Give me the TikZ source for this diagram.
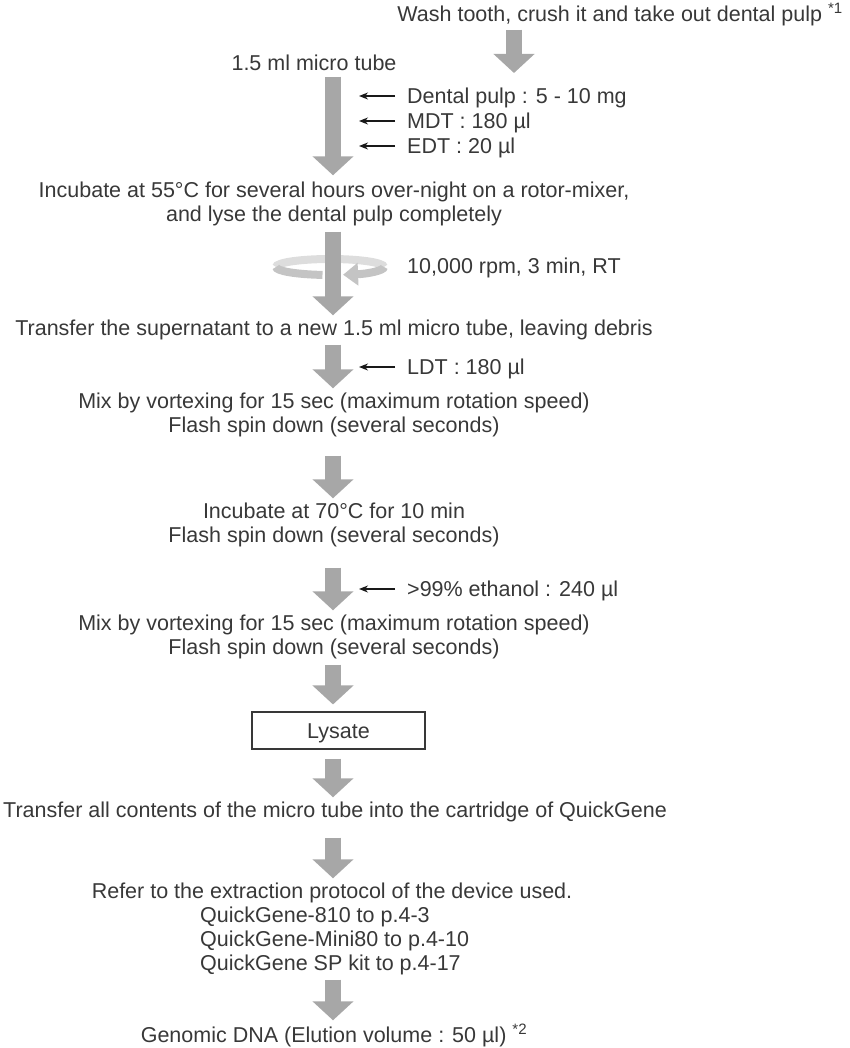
\documentclass[tikz,border=0pt]{standalone}
\usepackage{fontspec}
\setmainfont{Liberation Sans}
\usetikzlibrary{arrows.meta,calc}
\definecolor{txtgray}{HTML}{383838}
\definecolor{flowgray}{HTML}{A7A7A7}
\definecolor{ringfront}{HTML}{C4C4C4}
\definecolor{ringback}{HTML}{DDDDDD}

\begin{document}
\begin{tikzpicture}[x=1pt,y=1pt,
  txt/.style={inner sep=0pt, text height=20pt, text depth=5pt,
    font=\fontsize{21.5}{24}\selectfont, text=txtgray},
  flow/.style={draw=flowgray, line width=16pt, -{Triangle[width=40pt,length=19pt]}},
  add/.style={draw=black!90, line width=1.4pt, -{Stealth[length=9pt,width=7pt]}},
  ring/.style={line width=8pt},
  box/.style={draw=txtgray, line width=1.1pt, minimum width=173pt, minimum height=37pt}
]
\useasboundingbox (0,0) rectangle (850,-1048);

% column positions for the flow arrows and the tips of the small arrows
\coordinate (col) at (333,0);
\coordinate (colW) at (514,0);
\coordinate (pulpIn) at (514,-73);
\coordinate (addTip) at (359,0);
\coordinate (rc) at (330,-267);

% steps
\node[txt, anchor=east] (wash) at (843,-14) {Wash tooth, crush it and take out dental pulp \textsuperscript{*1}};
\node[txt] (tube) at (314,-63) {1.5 ml micro tube};
\node[txt, anchor=west] (dp) at (407,-96) {Dental pulp : 5 - 10 mg};
\node[txt, anchor=west] (mdt) at (407,-121) {MDT : 180 µl};
\node[txt, anchor=west] (edt) at (407,-146) {EDT : 20 µl};
\node[txt] (inc1a) at (334,-190) {Incubate at 55°C for several hours over-night on a rotor-mixer,};
\node[txt] (inc1b) at (334,-214) {and lyse the dental pulp completely};
\node[txt, anchor=west] (rpm) at (407,-266) {10,000 rpm, 3 min, RT};
\node[txt] (trans) at (334,-328) {Transfer the supernatant to a new 1.5 ml micro tube, leaving debris};
\node[txt, anchor=west] (ldt) at (407,-367) {LDT : 180 µl};
\node[txt] (mix1a) at (334,-401) {Mix by vortexing for 15 sec (maximum rotation speed)};
\node[txt] (mix1b) at (334,-425) {Flash spin down (several seconds)};
\node[txt] (inc2a) at (334,-511) {Incubate at 70°C for 10 min};
\node[txt] (inc2b) at (334,-535) {Flash spin down (several seconds)};
\node[txt, anchor=west] (eth) at (407,-589) {>99\% ethanol : 240 µl};
\node[txt] (mix2a) at (334,-623) {Mix by vortexing for 15 sec (maximum rotation speed)};
\node[txt] (mix2b) at (334,-647) {Flash spin down (several seconds)};
\node[txt, box] (lys) at (338.5,-730.5) {Lysate};
\node[txt] (tall) at (335,-810) {Transfer all contents of the micro tube into the cartridge of QuickGene};
\node[txt] (ref) at (332,-891) {Refer to the extraction protocol of the device used.};
\node[txt, anchor=west] (q1) at (200,-915) {QuickGene-810 to p.4-3};
\node[txt, anchor=west] (q2) at (200,-939) {QuickGene-Mini80 to p.4-10};
\node[txt, anchor=west] (q3) at (200,-963) {QuickGene SP kit to p.4-17};
\node[txt] (gdna) at (334,-1035) {Genomic DNA (Elution volume : 50 µl) \textsuperscript{*2}};

% back half of the rotation ring
\draw[ring, ringback] ($(rc)+(0:54 and 8)$) arc[start angle=0, end angle=180, x radius=54, y radius=8];

% flow arrows
\draw[flow, shorten <=3pt] (wash.south -| colW) -- (pulpIn);
\draw[flow, shorten <=1pt, shorten >=2pt] (tube.south -| col) -- (inc1a.north -| col);
\draw[flow, shorten <=5pt] (inc1b.south -| col) -- (trans.north -| col);
\draw[flow, shorten <=4pt] (trans.south -| col) -- (mix1a.north -| col);
\draw[flow, shorten <=18pt] (mix1b.south -| col) -- (inc2a.north -| col);
\draw[flow, shorten <=20pt] (inc2b.south -| col) -- (mix2a.north -| col);
\draw[flow, shorten <=5pt, shorten >=7pt] (mix2b.south -| col) -- (lys.north -| col);
\draw[flow, shorten <=9pt] (lys.south -| col) -- (tall.north -| col);
\draw[flow, shorten <=15pt] (tall.south -| col) -- (ref.north -| col);
\draw[flow, shorten <=4pt, shorten >=2pt] (q3.south -| col) -- (gdna.north -| col);

% front half of the rotation ring
\draw[ring, ringfront] ($(rc)+(180:54 and 8)$) arc[start angle=180, end angle=262, x radius=54, y radius=8];
\draw[ring, ringfront, -{Triangle[width=22pt,length=15pt]}] ($(rc)+(0:54 and 8)$) arc[start angle=0, end angle=-76, x radius=54, y radius=8];

% reagents added
\foreach \n in {dp,mdt,edt,ldt,eth}
  \draw[add, shorten <=12pt] (\n.west) -- (\n.west -| addTip);
\end{tikzpicture}
\end{document}
